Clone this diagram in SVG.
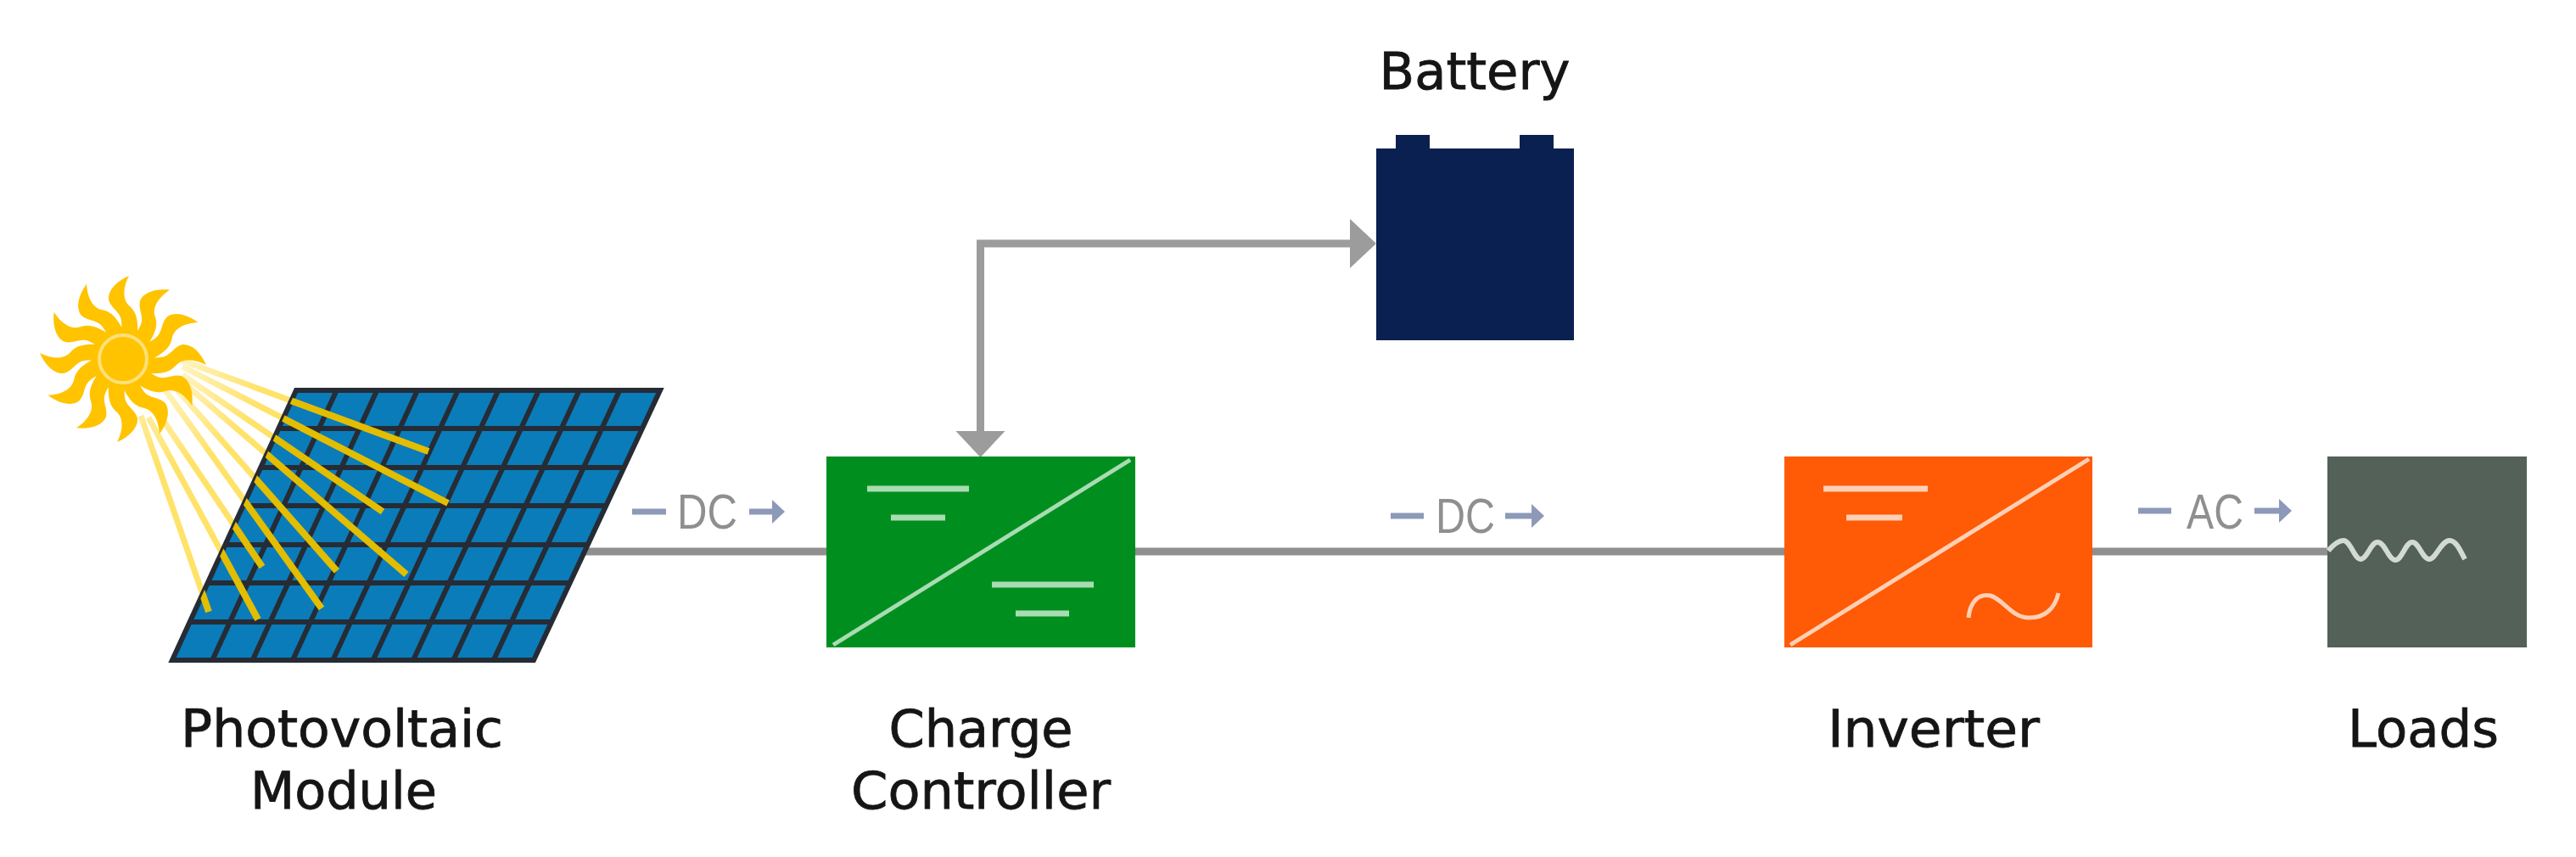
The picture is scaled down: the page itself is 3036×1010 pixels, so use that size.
<svg xmlns="http://www.w3.org/2000/svg" width="3036" height="1010" viewBox="0 0 3036 1010">
<style>
.lbl{font-family:"DejaVu Sans",Verdana,sans-serif;font-size:60px;fill:#151515;stroke:#151515;stroke-width:0.8px;text-anchor:middle}
.cur{font-family:"Liberation Sans",Arial,sans-serif;font-size:58px;fill:#8f8f8f}
.wire{fill:none;stroke:#8f8f8f;stroke-width:9}
.link{fill:none;stroke:#9c9c9c;stroke-width:9;stroke-linejoin:miter}
.flow{fill:none;stroke:#8c99b8;stroke-width:7}
.grid{fill:none;stroke:#262c35;stroke-width:6}
.beamw{stroke:url(#fade);stroke-width:7}
.beamp{stroke:#e3bd00;stroke-width:8}
.bar-g{stroke:#a9dcb2;stroke-width:7;fill:none}
.bar-o{stroke:#ffd0b5;stroke-width:7;fill:none}
.ray{fill:#ffc300}
</style>
<defs>
<marker id="head" markerUnits="userSpaceOnUse" markerWidth="32" markerHeight="58" refX="1" refY="29" orient="auto-start-reverse"><path d="M0,0 L31,29 L0,58 Z" fill="#9c9c9c"/></marker>
<marker id="flowhead" markerUnits="userSpaceOnUse" markerWidth="16" markerHeight="28" refX="1" refY="14" orient="auto"><path d="M0,0 L15,14 L0,28 Z" fill="#8c99b8"/></marker>
<clipPath id="panelclip"><polygon points="349,460 778,460 629,778 203,778"/></clipPath>
<radialGradient id="fade" gradientUnits="userSpaceOnUse" cx="200" cy="440" r="120"><stop offset="0.15" stop-color="#fff3bd"/><stop offset="0.9" stop-color="#ffe268"/></radialGradient>
<path id="r" class="ray" d="M17,-28 C18,-45 16,-55 8,-62 C1,-68 -2,-80 7,-98 C-9,-91 -18,-80 -17,-70 C-15,-60 -3,-56 -2,-45 C-1,-38 -2,-32 -4,-28 Z"/>
</defs>
<rect width="3036" height="1010" fill="#ffffff"/>

<g id="connectors">
<path class="wire" d="M689,650 H974"/>
<path class="wire" d="M1338,650 H2103"/>
<path class="wire" d="M2466,650 H2745"/>
<path class="link" d="M1155.5,509 V287 H1592" marker-start="url(#head)" marker-end="url(#head)"/>
</g>

<g id="pv-module">
<g id="beams-white" class="beamw">
<line x1="215" y1="425" x2="505" y2="532"/><line x1="215" y1="432" x2="528" y2="593"/><line x1="215" y1="442" x2="451" y2="603"/><line x1="215" y1="450" x2="479" y2="677"/><line x1="205" y1="455" x2="397" y2="673"/><line x1="195" y1="460" x2="379" y2="717"/><line x1="190" y1="492" x2="309" y2="668"/><line x1="175" y1="492" x2="304" y2="730"/><line x1="166" y1="490" x2="246" y2="721"/>
</g>
<g id="sun">
<g transform="translate(145,423)">
<use href="#r"/><use href="#r" transform="rotate(30)"/><use href="#r" transform="rotate(60)"/><use href="#r" transform="rotate(90)"/><use href="#r" transform="rotate(120)"/><use href="#r" transform="rotate(150)"/><use href="#r" transform="rotate(180)"/><use href="#r" transform="rotate(210)"/><use href="#r" transform="rotate(240)"/><use href="#r" transform="rotate(270)"/><use href="#r" transform="rotate(300)"/><use href="#r" transform="rotate(330)"/>
<circle r="34" fill="#ffc300"/>
<circle r="28" fill="#ffc300" stroke="#ffe07a" stroke-width="4"/>
</g>
</g>
<polygon points="349,460 778,460 629,778 203,778" fill="#0a7cba"/>
<g id="panel-grid" class="grid">
<polygon points="349,460 778,460 629,778 203,778"/>
<path d="M328,505 H757 M307,551 H735 M287,596 H714 M265.5,642 H693 M245,687 H671 M224,733 H650"/>
<path d="M396.7,460 L250.3,778 M444.3,460 L297.7,778 M492,460 L345,778 M539.7,460 L392.3,778 M587.3,460 L439.7,778 M635,460 L487,778 M682.7,460 L534.3,778 M730.3,460 L581.7,778"/>
</g>
<g id="beams-panel" class="beamp" clip-path="url(#panelclip)">
<line x1="215" y1="425" x2="505" y2="532"/><line x1="215" y1="432" x2="528" y2="593"/><line x1="215" y1="442" x2="451" y2="603"/><line x1="215" y1="450" x2="479" y2="677"/><line x1="205" y1="455" x2="397" y2="673"/><line x1="195" y1="460" x2="379" y2="717"/><line x1="190" y1="492" x2="309" y2="668"/><line x1="175" y1="492" x2="304" y2="730"/><line x1="166" y1="490" x2="246" y2="721"/>
</g>
<text class="lbl" x="403" y="880" textLength="380" lengthAdjust="spacingAndGlyphs">Photovoltaic</text>
<text class="lbl" x="405" y="953" textLength="220" lengthAdjust="spacingAndGlyphs">Module</text>
</g>

<g id="battery">
<path d="M1622,175 H1645 V159 H1685 V175 H1791 V159 H1831 V175 H1855 V401 H1622 Z" fill="#0a2050"/>
<text class="lbl" x="1738" y="105" textLength="225" lengthAdjust="spacingAndGlyphs">Battery</text>
</g>

<g id="charge-controller">
<rect x="974" y="538" width="364" height="225" fill="#008f1f"/>
<path d="M982,760 L1332,542" stroke="#a9dcb2" stroke-width="5" fill="none"/>
<path class="bar-g" d="M1022,576 H1142 M1050,610 H1114 M1169,689 H1289 M1197,723 H1260"/>
<text class="lbl" x="1156" y="880" textLength="217" lengthAdjust="spacingAndGlyphs">Charge</text>
<text class="lbl" x="1156" y="953" textLength="306" lengthAdjust="spacingAndGlyphs">Controller</text>
</g>

<g id="inverter">
<rect x="2103" y="538" width="363" height="225" fill="#ff5a05"/>
<path d="M2110,760 L2462,541" stroke="#ffd0b5" stroke-width="5" fill="none"/>
<path class="bar-o" d="M2149,576 H2272 M2176,610 H2242"/>
<path d="M2320,728 C2322,709 2332,699 2346,702 C2362,707 2372,729 2392,728 C2410,728 2422,717 2426,699" fill="none" stroke="#ffd0b5" stroke-width="5"/>
<text class="lbl" x="2279" y="880" textLength="250" lengthAdjust="spacingAndGlyphs">Inverter</text>
</g>

<g id="loads">
<rect x="2743" y="538" width="235" height="225" fill="#536158"/>
<path d="M2744,649 C2750,642 2756,637 2762,637 C2770,637 2775,659 2782,659 C2790,659 2794,639 2802,639 C2811,639 2815,660 2823,660 C2831,660 2835,639 2843,639 C2851,639 2855,659 2863,659 C2871,659 2877,637 2887,637 C2895,637 2900,650 2905,659" fill="none" stroke="#d3dad6" stroke-width="6"/>
<text class="lbl" x="2856" y="880" textLength="178" lengthAdjust="spacingAndGlyphs">Loads</text>
</g>

<g id="current-labels">
<g id="dc-1">
<path class="flow" d="M745,603 H785"/>
<text class="cur" x="798" y="623" textLength="71" lengthAdjust="spacingAndGlyphs">DC</text>
<path class="flow" d="M883,603 H911" marker-end="url(#flowhead)"/>
</g>
<g id="dc-2">
<path class="flow" d="M1639,608 H1678"/>
<text class="cur" x="1692" y="628" textLength="70" lengthAdjust="spacingAndGlyphs">DC</text>
<path class="flow" d="M1774,608 H1806" marker-end="url(#flowhead)"/>
</g>
<g id="ac">
<path class="flow" d="M2520,602 H2559"/>
<text class="cur" x="2577" y="623" textLength="67" lengthAdjust="spacingAndGlyphs">AC</text>
<path class="flow" d="M2657,602 H2687" marker-end="url(#flowhead)"/>
</g>
</g>
</svg>
